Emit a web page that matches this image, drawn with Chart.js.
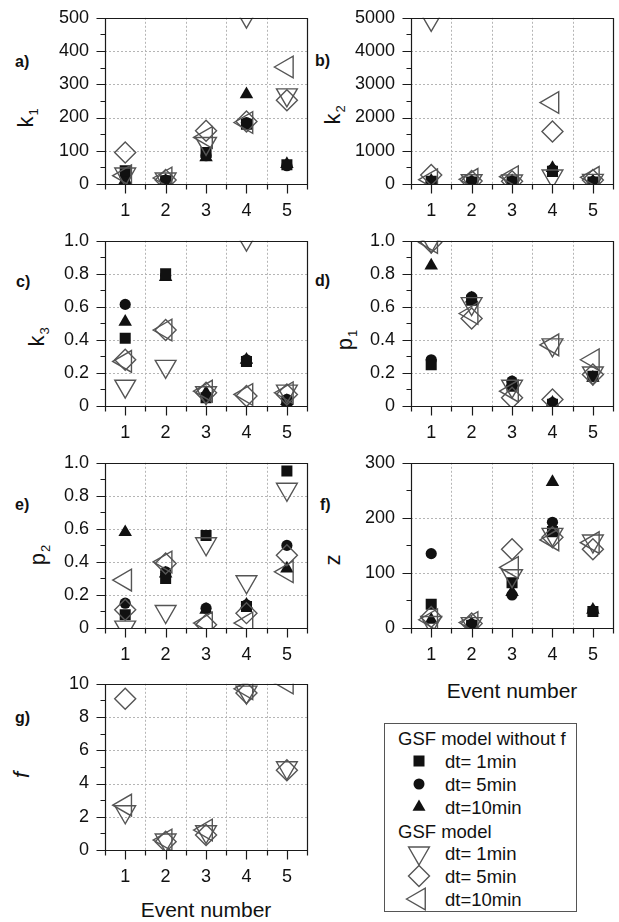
<!DOCTYPE html>
<html><head><meta charset="utf-8">
<script src="https://cdn.jsdelivr.net/npm/chart.js@4/dist/chart.umd.min.js"></script>
<style>
html,body{margin:0;padding:0;background:#fff;}
body{width:619px;height:922px;position:relative;overflow:hidden;font-family:'Liberation Sans',Arial,sans-serif;color:#111;}
canvas{position:absolute;}
.lab{position:absolute;font-weight:bold;font-size:16px;line-height:1;transform:translateY(-50%);}
.yt{position:absolute;font-size:22px;line-height:1;white-space:nowrap;transform:translate(-50%,-50%) rotate(-90deg);}
.yt sub{font-size:13px;vertical-align:baseline;position:relative;top:5px;margin-left:1px;}
.xt{position:absolute;font-size:21px;line-height:1;white-space:nowrap;transform:translate(-50%,-50%);}
#legend{position:absolute;left:384px;top:723px;width:193px;height:189px;border:1px solid #555;box-sizing:border-box;font-size:18.5px;}
#legend .row{position:absolute;left:0;height:22px;line-height:22px;white-space:nowrap;}
#legend svg{position:absolute;}
</style>
</head><body>

<script>
// ---------- DATA ----------
const events = [1, 2, 3, 4, 5];
const xLabels = ['1', '2', '3', '4', '5'];

// a) k1
const k1_sq = [40, 10, 95, 180, 58];
const k1_ci = [20, 12, 85, 185, 55];
const k1_tr = [12, 10, 80, 270, 60];
const k1_dn = [30, 15, 122, 505, 268];
const k1_di = [95, 12, 160, 188, 252];
const k1_lt = [25, 18, 140, 185, 352];
// b) k2
const k2_sq = [80, 60, 70, 380, 60];
const k2_ci = [80, 70, 80, 430, 70];
const k2_tr = [100, 80, 90, 480, 80];
const k2_dn = [4950, 100, 90, 240, 110];
const k2_di = [270, 90, 80, 1580, 120];
const k2_lt = [130, 140, 220, 2450, 200];
// c) k3
const k3_sq = [0.41, 0.80, 0.05, 0.27, 0.03];
const k3_ci = [0.615, 0.79, 0.06, 0.28, 0.04];
const k3_tr = [0.51, 0.78, 0.08, 0.28, 0.03];
const k3_dn = [0.12, 0.24, 0.08, 1.01, 0.09];
const k3_di = [0.28, 0.46, 0.08, 0.06, 0.07];
const k3_lt = [0.27, 0.46, 0.09, 0.07, 0.08];
// d) p1
const p1_sq = [0.25, 0.64, 0.12, 0.01, 0.18];
const p1_ci = [0.28, 0.66, 0.15, 0.02, 0.18];
const p1_tr = [0.85, 0.65, 0.14, 0.02, 0.17];
const p1_dn = [1.0, 0.62, 0.12, 0.37, 0.20];
const p1_di = [0.99, 0.53, 0.05, 0.04, 0.19];
const p1_lt = [0.99, 0.56, 0.09, 0.37, 0.28];
// e) p2
const p2_sq = [0.08, 0.30, 0.56, 0.13, 0.95];
const p2_ci = [0.15, 0.34, 0.12, 0.14, 0.50];
const p2_tr = [0.58, 0.33, 0.11, 0.14, 0.36];
const p2_dn = [0.005, 0.10, 0.51, 0.28, 0.84];
const p2_di = [0.11, 0.39, 0.02, 0.09, 0.44];
const p2_lt = [0.29, 0.40, 0.03, 0.03, 0.34];
// f) z
const z_sq = [43, 5, 82, 175, 30];
const z_ci = [135, 7, 60, 192, 31];
const z_tr = [15, 8, 65, 265, 33];
const z_dn = [10, 8, 95, 170, 158];
const z_di = [20, 8, 143, 165, 143];
const z_lt = [15, 10, 110, 160, 155];
// g) f (only GSF model)
const f_dn = [2.3, 0.6, 1.1, 9.5, 4.95];
const f_di = [9.1, 0.5, 0.9, 9.45, 4.8];
const f_lt = [2.7, 0.6, 1.2, 9.7, 10.05];

// y-axis tick ranges [min, max, major step]
const k1_ticks = [0, 500, 100];
const k2_ticks = [0, 5000, 1000];
const k3_ticks = [0, 1, 0.2];
const p1_ticks = [0, 1, 0.2];
const p2_ticks = [0, 1, 0.2];
const z_ticks = [0, 300, 100];
const f_ticks = [0, 10, 2];

const legendHead1 = 'GSF model without f';
const legendHead2 = 'GSF model';
const legendItems = ['dt= 1min', 'dt= 5min', 'dt=10min'];
</script>

<div class="lab" style="left:15px;top:62px">a)</div>
<div class="lab" style="left:315px;top:61px">b)</div>
<div class="lab" style="left:16px;top:282px">c)</div>
<div class="lab" style="left:315px;top:281px">d)</div>
<div class="lab" style="left:15px;top:505px">e)</div>
<div class="lab" style="left:320px;top:505px">f)</div>
<div class="lab" style="left:15px;top:718px">g)</div>

<div class="yt" style="left:26px;top:118px">k<sub>1</sub></div>
<div class="yt" style="left:333px;top:115px">k<sub>2</sub></div>
<div class="yt" style="left:37px;top:337px">k<sub>3</sub></div>
<div class="yt" style="left:345px;top:340px">p<sub>1</sub></div>
<div class="yt" style="left:38px;top:555px">p<sub>2</sub></div>
<div class="yt" style="left:333px;top:560px">z</div>
<div class="yt" style="left:22px;top:775px;font-style:italic">f</div>

<div class="xt" style="left:512px;top:690px">Event number</div>
<div class="xt" style="left:206px;top:909px">Event number</div>

<div id="legend"></div>

<script>
const FONT = "'Liberation Sans', Arial, sans-serif";
const FILL = '#111';
const OPEN = '#555';

const STYLES = {
  sq: {pointStyle: 'rect', radius: 7.8, rotation: 0, filled: true},
  ci: {pointStyle: 'circle', radius: 5.6, rotation: 0, filled: true},
  tr: {pointStyle: 'triangle', radius: 7.8, rotation: 0, filled: true},
  dn: {pointStyle: 'triangle', radius: 12, rotation: 180, filled: false},
  di: {pointStyle: 'rectRot', radius: 10.5, rotation: 0, filled: false},
  lt: {pointStyle: 'triangle', radius: 12.5, rotation: -90, filled: false}
};

function isMajor(v, major) {
  return Math.abs(Math.round(v / major) * major - v) < 1e-7;
}

const framePlugin = {
  id: 'frame',
  beforeDatasetsDraw(chart) {
    const {ctx, chartArea: a, scales: {x, y}} = chart;
    const o = chart.options.plugins.frame;
    ctx.save();
    ctx.strokeStyle = '#b5b5b5';
    ctx.lineWidth = 1;
    ctx.setLineDash([2, 2]);
    ctx.beginPath();
    for (let i = 0; i < events.length - 1; i++) {
      const v = (events[i] + events[i + 1]) / 2;
      const px = Math.round(x.getPixelForValue(v)) + 0.5;
      ctx.moveTo(px, a.top); ctx.lineTo(px, a.bottom);
    }
    for (const t of y.ticks) {
      if (t.value <= o.min + 1e-9 || t.value >= o.max - 1e-9) continue;
      if (!isMajor(t.value, o.major)) continue;
      const py = Math.round(y.getPixelForValue(t.value)) + 0.5;
      ctx.moveTo(a.left, py); ctx.lineTo(a.right, py);
    }
    ctx.stroke();
    ctx.restore();
  },
  afterDatasetsDraw(chart) {
    const {ctx, chartArea: a, scales: {x, y}} = chart;
    const o = chart.options.plugins.frame;
    ctx.save();
    ctx.strokeStyle = '#1a1a1a';
    ctx.lineWidth = 1.2;
    const L = Math.round(a.left) + 0.5, T = Math.round(a.top) + 0.5;
    const R = Math.round(a.right) + 0.5, B = Math.round(a.bottom) + 0.5;
    ctx.beginPath();
    ctx.rect(L, T, R - L, B - T);
    for (const t of y.ticks) {
      const py = Math.round(y.getPixelForValue(t.value)) + 0.5;
      const len = isMajor(t.value, o.major) ? 9 : 5;
      ctx.moveTo(L, py); ctx.lineTo(L - len, py);
    }
    for (const t of x.ticks) {
      const px = Math.round(x.getPixelForValue(t.value)) + 0.5;
      const len = Number.isInteger(t.value) ? 9 : 5;
      ctx.moveTo(px, B); ctx.lineTo(px, B + len);
    }
    ctx.stroke();
    ctx.restore();
  }
};

function buildConfig(ticks, series) {
  const [mn, mx, major] = ticks;
  const dec = major < 1 ? 1 : 0;
  const datasets = series.map(([key, arr]) => {
    const s = STYLES[key];
    return {
      data: events.map((e, i) => ({x: e, y: arr[i]})),
      pointStyle: s.pointStyle,
      pointRadius: s.radius,
      rotation: s.rotation,
      pointBackgroundColor: s.filled ? FILL : 'rgba(0,0,0,0)',
      pointBorderColor: s.filled ? FILL : OPEN,
      pointBorderWidth: s.filled ? 0 : 1.4,
      showLine: false,
      clip: 0
    };
  });
  return {
    type: 'scatter',
    data: {datasets},
    plugins: [framePlugin],
    options: {
      responsive: false,
      animation: false,
      events: [],
      layout: {padding: {top: 0, right: 0, left: 0, bottom: 0}},
      plugins: {legend: {display: false}, tooltip: {enabled: false},
                frame: {min: mn, max: mx, major: major}},
      scales: {
        x: {
          type: 'linear', min: 0.5, max: 5.5,
          afterFit: s => { s.height = 42; },
          grid: {display: false}, border: {display: false},
          ticks: {stepSize: 0.5, autoSkip: false, maxRotation: 0, maxTicksLimit: 30,
                  padding: 8, color: '#111', font: {family: FONT, size: 18},
                  callback: v => Number.isInteger(v) ? xLabels[v - 1] : ''}
        },
        y: {
          type: 'linear', min: mn, max: mx,
          afterFit: s => { s.width = 105; },
          grid: {display: false}, border: {display: false},
          ticks: {stepSize: major / 2, autoSkip: false, maxTicksLimit: 30,
                  padding: 8, color: '#111', font: {family: FONT, size: 18},
                  callback: v => isMajor(v, major) ? (Math.abs(v) < 1e-9 ? '0' : (dec ? v.toFixed(1) : String(Math.round(v)))) : ''}
        }
      }
    }
  };
}

// place a panel so that its plot area spans [areaLeft, areaRight] x [areaTop, areaBottom]
function makePanel(areaLeft, areaRight, areaTop, areaBottom, ticks, series) {
  const W0 = 330, H0 = 240;
  const probe = document.createElement('canvas');
  probe.width = W0; probe.height = H0;
  probe.style.left = '-1000px'; probe.style.top = '0px';
  document.body.appendChild(probe);
  const pc = new Chart(probe, buildConfig(ticks, series));
  const ca = pc.chartArea;
  const padL = ca.left, padT = ca.top, padR = W0 - ca.right, padB = H0 - ca.bottom;
  pc.destroy();
  probe.remove();

  const W = Math.round(padL + (areaRight - areaLeft) + padR);
  const H = Math.round(padT + (areaBottom - areaTop) + padB);
  const cv = document.createElement('canvas');
  cv.width = W; cv.height = H;
  cv.style.left = Math.round(areaLeft - padL) + 'px';
  cv.style.top = Math.round(areaTop - padT) + 'px';
  cv.style.width = W + 'px'; cv.style.height = H + 'px';
  document.body.appendChild(cv);
  new Chart(cv, buildConfig(ticks, series));
}

makePanel(105, 307, 18, 184, k1_ticks, [['dn', k1_dn], ['di', k1_di], ['lt', k1_lt], ['sq', k1_sq], ['ci', k1_ci], ['tr', k1_tr]]);
makePanel(411, 613, 18, 184, k2_ticks, [['dn', k2_dn], ['di', k2_di], ['lt', k2_lt], ['sq', k2_sq], ['ci', k2_ci], ['tr', k2_tr]]);
makePanel(105, 307, 241, 406, k3_ticks, [['dn', k3_dn], ['di', k3_di], ['lt', k3_lt], ['sq', k3_sq], ['ci', k3_ci], ['tr', k3_tr]]);
makePanel(411, 613, 241, 406, p1_ticks, [['dn', p1_dn], ['di', p1_di], ['lt', p1_lt], ['sq', p1_sq], ['ci', p1_ci], ['tr', p1_tr]]);
makePanel(105, 307, 463, 628, p2_ticks, [['dn', p2_dn], ['di', p2_di], ['lt', p2_lt], ['sq', p2_sq], ['ci', p2_ci], ['tr', p2_tr]]);
makePanel(411, 613, 463, 628, z_ticks, [['dn', z_dn], ['di', z_di], ['lt', z_lt], ['sq', z_sq], ['ci', z_ci], ['tr', z_tr]]);
makePanel(105, 307, 684, 850, f_ticks, [['dn', f_dn], ['di', f_di], ['lt', f_lt]]);

// ---------- legend ----------
(function () {
  const lg = document.getElementById('legend');
  const rowsY = [15, 38, 61, 84, 108, 130, 153, 176];
  const shapes = {
    sq: '<rect x="-5.5" y="-5.5" width="11" height="11" fill="' + FILL + '"/>',
    ci: '<circle cx="0" cy="0" r="5.5" fill="' + FILL + '"/>',
    tr: '<polygon points="0,-7.5 6.5,3.75 -6.5,3.75" fill="' + FILL + '"/>',
    dn: '<polygon points="0,12 10.39,-6 -10.39,-6" fill="none" stroke="' + OPEN + '" stroke-width="1.4"/>',
    di: '<polygon points="-10.5,0 0,-10.5 10.5,0 0,10.5" fill="none" stroke="' + OPEN + '" stroke-width="1.4"/>',
    lt: '<polygon points="-12.5,0 6.25,-10.83 6.25,10.83" fill="none" stroke="' + OPEN + '" stroke-width="1.4"/>'
  };
  function text(y, x, s) {
    const d = document.createElement('div');
    d.className = 'row';
    d.style.left = x + 'px';
    d.style.top = (y - 11) + 'px';
    d.textContent = s;
    lg.appendChild(d);
  }
  function marker(y, key) {
    const ns = 'http://www.w3.org/2000/svg';
    const sv = document.createElementNS(ns, 'svg');
    sv.setAttribute('width', 30); sv.setAttribute('height', 30);
    sv.setAttribute('viewBox', '-15 -15 30 30');
    sv.style.left = (35 - 15 - 1) + 'px';
    sv.style.top = (y - 15 - 1) + 'px';
    sv.innerHTML = shapes[key];
    lg.appendChild(sv);
  }
  text(rowsY[0], 13, legendHead1);
  ['sq', 'ci', 'tr'].forEach((k, i) => { marker(rowsY[1 + i], k); text(rowsY[1 + i], 60, legendItems[i]); });
  text(rowsY[4], 13, legendHead2);
  ['dn', 'di', 'lt'].forEach((k, i) => { marker(rowsY[5 + i], k); text(rowsY[5 + i], 60, legendItems[i]); });
})();
</script>
</body></html>
